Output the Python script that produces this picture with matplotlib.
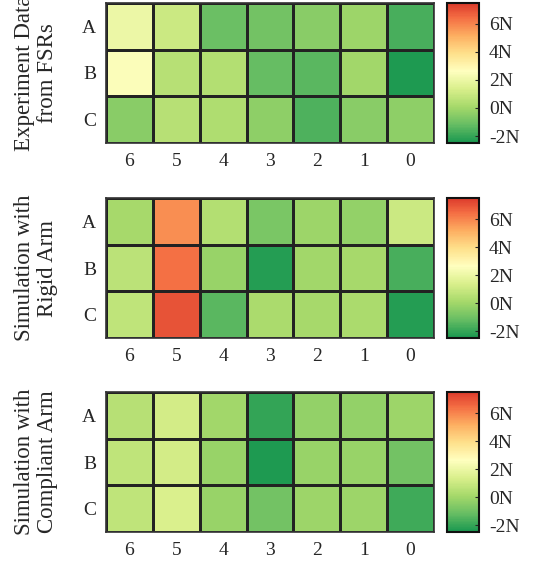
import matplotlib
matplotlib.use('Agg')

import numpy as np
import matplotlib.pyplot as plt
from matplotlib.colors import LinearSegmentedColormap

plt.rcParams['font.family'] = ['Liberation Serif', 'DejaVu Serif']

cols = ['6', '5', '4', '3', '2', '1', '0']
rows = ['A', 'B', 'C']

titles = ['Experiment Data\nfrom FSRs', 'Simulation with\nRigid Arm', 'Simulation with\nCompliant Arm']

experiment = [
    [2.0, 1.0, -1.1, -0.9, -0.5, -0.1, -1.7],
    [2.5, 0.5, 0.4, -1.2, -1.4, 0.0, -2.4],
    [-0.5, 0.5, 0.3, -0.4, -1.6, -0.5, -0.4],
]
rigid = [
    [0.1, 5.8, 0.4, -0.8, -0.1, -0.3, 1.0],
    [0.6, 6.4, -0.2, -2.3, 0.0, 0.1, -1.7],
    [0.7, 7.0, -1.4, 0.2, 0.1, 0.2, -2.3],
]
compliant = [
    [0.5, 1.2, 0.0, -2.0, -0.3, -0.3, -0.1],
    [0.7, 1.2, -0.2, -2.4, -0.2, -0.2, -0.9],
    [0.7, 1.4, -0.2, -0.9, -0.1, -0.1, -1.8],
]
cb_ticks = [-2, 0, 2, 4, 6]

vmin, vmax = -2.5, 7.5
base = plt.get_cmap('RdYlGn_r')
cmap = LinearSegmentedColormap.from_list('trunc', base(np.linspace(0.1, 0.88, 256)))

txt = '#262626'
fig = plt.figure(figsize=(5.56, 5.63), dpi=100)

bottoms = [0.746, 0.3996, 0.055]
for data, title, b in zip([experiment, rigid, compliant], titles, bottoms):
    ax = fig.add_axes([0.1906, b, 0.59, 0.2487])
    arr = np.array(data)
    m = ax.pcolormesh(arr, cmap=cmap, vmin=vmin, vmax=vmax,
                      edgecolors='#222222', linewidth=0.9)
    ax.set_xlim(0, len(cols))
    ax.set_ylim(len(rows), 0)
    ax.set_xticks(np.arange(len(cols)) + 0.5)
    ax.set_xticklabels(cols)
    ax.set_yticks(np.arange(len(rows)) + 0.5)
    ax.set_yticklabels(rows)
    ax.tick_params(length=0, labelsize=14, colors=txt, pad=7)
    for s in ax.spines.values():
        s.set_linewidth(1.2)
        s.set_color('#333333')

    cax = fig.add_axes([0.804, b, 0.0576, 0.2487])
    cb = fig.colorbar(m, cax=cax, ticks=cb_ticks)
    cb.ax.set_yticklabels(['{}N'.format(t) for t in cb_ticks])
    cb.ax.tick_params(direction='in', length=3, width=0.8, labelsize=14,
                      colors=txt, pad=7)
    cb.outline.set_linewidth(1.5)
    cb.outline.set_edgecolor('#111111')

    fig.text(0.064, b + 0.2487 / 2, title, rotation=90, ha='center', va='center',
             fontsize=16.5, color=txt, linespacing=1.12)

plt.savefig('out.png', dpi=100)
